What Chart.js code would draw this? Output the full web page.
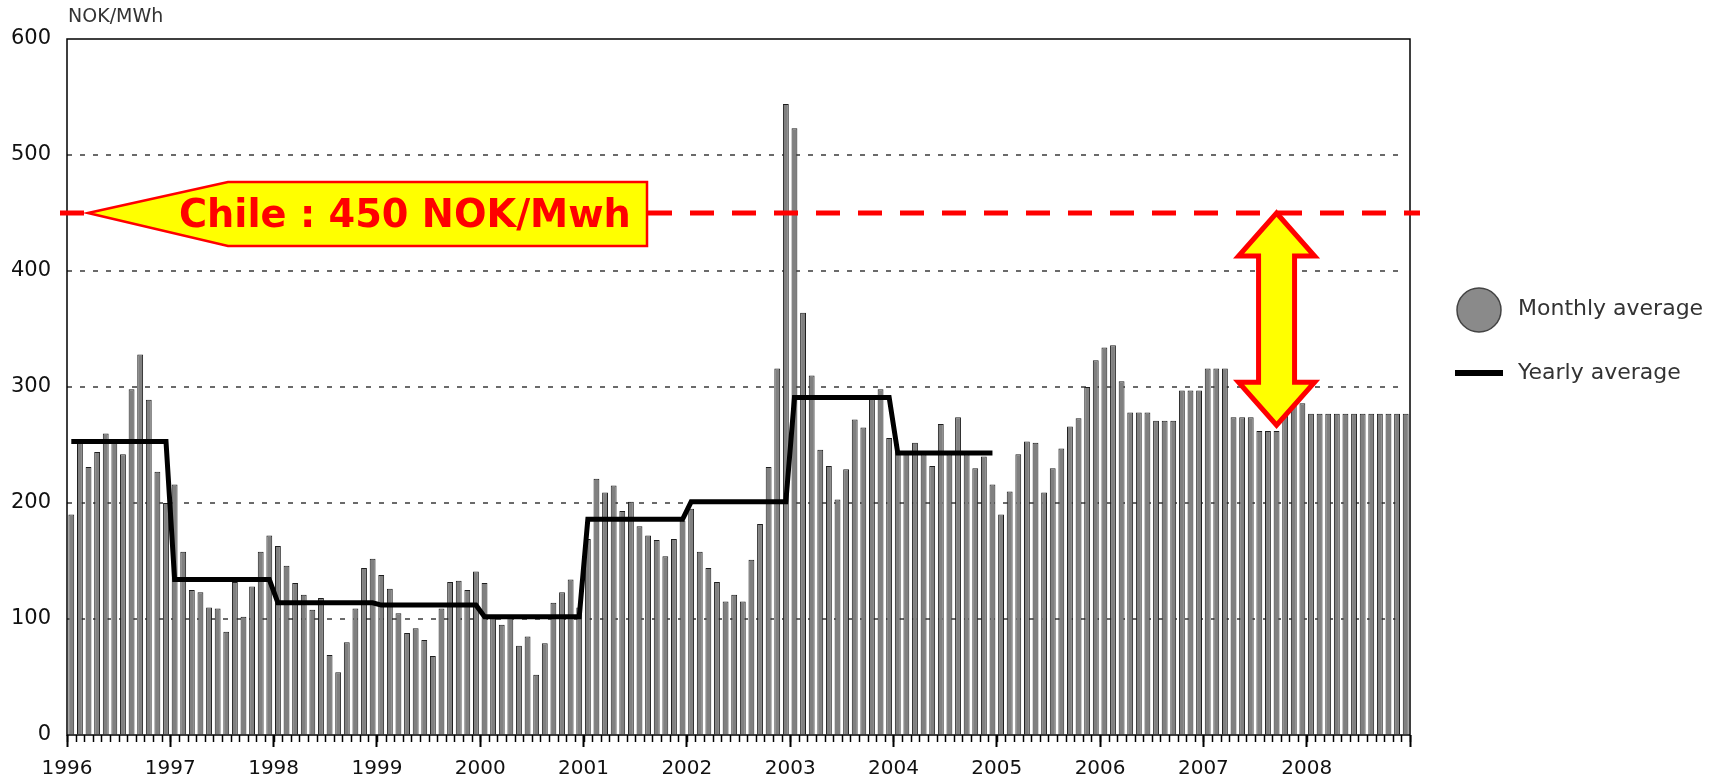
<!DOCTYPE html>
<html>
<head>
<meta charset="utf-8">
<title>NOK/MWh - monthly and yearly average</title>
<script src="https://cdn.jsdelivr.net/npm/chart.js@4.4.1/dist/chart.umd.min.js"></script>
<style>
  html, body { margin: 0; padding: 0; background: #fff; }
</style>
</head>
<body>
<canvas id="priceChart" width="1717" height="781"></canvas>
<script>
const years = ['1996', '1997', '1998', '1999', '2000', '2001', '2002',
               '2003', '2004', '2005', '2006', '2007', '2008'];
const monthNames = ['Jan', 'Feb', 'Mar', 'Apr', 'May', 'Jun',
                    'Jul', 'Aug', 'Sep', 'Oct', 'Nov', 'Dec'];

// monthly average, NOK/MWh, one row per year
const monthlyAverage = [
  190, 253, 231, 244, 260, 252, 242, 298, 328, 289, 227, 200,  // 1996
  216, 158, 125, 123, 110, 109,  89, 132, 102, 128, 158, 172,  // 1997
  163, 146, 131, 121, 108, 118,  69,  54,  80, 109, 144, 152,  // 1998
  138, 126, 105,  88,  92,  82,  68, 109, 132, 133, 125, 141,  // 1999
  131, 102,  95, 101,  77,  85,  52,  79, 114, 123, 134, 110,  // 2000
  169, 221, 209, 215, 193, 201, 180, 172, 168, 154, 169, 185,  // 2001
  195, 158, 144, 132, 115, 121, 115, 151, 182, 231, 316, 544,  // 2002
  523, 364, 310, 246, 232, 203, 229, 272, 265, 290, 298, 256,  // 2003
  245, 243, 252, 242, 232, 268, 242, 274, 242, 230, 240, 216,  // 2004
  190, 210, 242, 253, 252, 209, 230, 247, 266, 273, 300, 323,  // 2005
  334, 336, 305, 278, 278, 278, 271, 271, 271, 297, 297, 297,  // 2006
  316, 316, 316, 274, 274, 274, 262, 262, 262, 286, 286, 286,  // 2007
  277, 277, 277, 277, 277, 277, 277, 277, 277, 277, 277, 277   // 2008
];

// yearly average, 1996 - 2004
const yearlyAverage = [253, 134, 114, 112, 102, 186, 201, 291, 243];

const chileLevel = 450;
const chileLabel = 'Chile : 450 NOK/Mwh';
const gapBottom = 267;     // where the double arrow ends
const gapMonth = 140;      // month slot the double arrow stands on

const months = [];
years.forEach(y => monthNames.forEach(m => months.push(m + ' ' + y)));

// one point per month so the line steps from Dec to Jan
const yearlyLine = [];
yearlyAverage.forEach(v => {
    for (let i = 0; i < 12; i++) yearlyLine.push(v);
});

Chart.defaults.font.family = "'DejaVu Sans', Verdana, sans-serif";

const extras = {
    id: 'extras',
    beforeDatasetsDraw(chart) {
        const ctx = chart.ctx;
        const area = chart.chartArea;
        const ys = chart.scales.y;
        // dotted grid lines
        ctx.save();
        ctx.strokeStyle = '#6a6a6a';
        ctx.lineWidth = 2;
        ctx.setLineDash([5, 8]);
        ys.ticks.forEach(t => {
            if (t.value <= ys.min || t.value >= ys.max) return;
            const y = Math.round(ys.getPixelForValue(t.value));
            ctx.beginPath();
            ctx.moveTo(area.left, y);
            ctx.lineTo(area.right - 6, y);
            ctx.stroke();
        });
        ctx.restore();
    },
    afterDatasetsDraw(chart) {
        const ctx = chart.ctx;
        const area = chart.chartArea;
        const ys = chart.scales.y;
        const xs = chart.scales.x;

        // frame
        ctx.save();
        ctx.strokeStyle = '#000';
        ctx.lineWidth = 1.5;
        ctx.strokeRect(area.left, area.top, area.right - area.left, area.bottom - area.top);

        // red dashed Chile level
        const yl = ys.getPixelForValue(chileLevel);
        ctx.strokeStyle = '#ff0000';
        ctx.lineWidth = 5;
        ctx.setLineDash([24, 18]);
        ctx.beginPath();
        ctx.moveTo(area.left - 7, yl);
        ctx.lineTo(area.right + 10, yl);
        ctx.stroke();
        ctx.setLineDash([]);

        // callout
        ctx.beginPath();
        ctx.moveTo(area.left + 21, yl);
        ctx.lineTo(area.left + 161, yl - 31);
        ctx.lineTo(area.left + 580, yl - 31);
        ctx.lineTo(area.left + 580, yl + 33);
        ctx.lineTo(area.left + 161, yl + 33);
        ctx.closePath();
        ctx.fillStyle = '#ffff00';
        ctx.fill();
        ctx.lineWidth = 2.5;
        ctx.strokeStyle = '#ff0000';
        ctx.stroke();

        let size = 36;
        ctx.font = 'bold ' + size + "px 'DejaVu Sans'";
        size = size * 452 / ctx.measureText(chileLabel).width;
        ctx.font = 'bold ' + size.toFixed(1) + "px 'DejaVu Sans'";
        ctx.fillStyle = '#ff0000';
        ctx.textAlign = 'left';
        ctx.textBaseline = 'middle';
        ctx.fillText(chileLabel, area.left + 112, yl + 4);

        // double arrow between Chile level and the forward prices
        const ax = xs.getPixelForValue(gapMonth);
        const yBot = ys.getPixelForValue(gapBottom);
        const headW = 38, headH = 43, shaftW = 18;
        ctx.beginPath();
        ctx.moveTo(ax, yl);
        ctx.lineTo(ax + headW, yl + headH);
        ctx.lineTo(ax + shaftW, yl + headH);
        ctx.lineTo(ax + shaftW, yBot - headH);
        ctx.lineTo(ax + headW, yBot - headH);
        ctx.lineTo(ax, yBot);
        ctx.lineTo(ax - headW, yBot - headH);
        ctx.lineTo(ax - shaftW, yBot - headH);
        ctx.lineTo(ax - shaftW, yl + headH);
        ctx.lineTo(ax - headW, yl + headH);
        ctx.closePath();
        ctx.fillStyle = '#ffff00';
        ctx.fill();
        ctx.lineWidth = 5;
        ctx.lineJoin = 'miter';
        ctx.strokeStyle = '#ff0000';
        ctx.stroke();
        ctx.restore();
    },
    afterDraw(chart) {
        const ctx = chart.ctx;
        const area = chart.chartArea;
        const yr = chart.scales.yr;
        ctx.save();

        // month tick marks under the axis
        ctx.strokeStyle = '#000';
        ctx.lineWidth = 1.5;
        for (let k = 0; k <= months.length; k++) {
            const x = Math.round(yr.getPixelForValue(yr.min + k / 12)) + 0.5;
            ctx.beginPath();
            ctx.moveTo(x, area.bottom);
            ctx.lineTo(x, area.bottom + 7);
            ctx.stroke();
        }

        // unit label
        ctx.fillStyle = '#333';
        ctx.font = "19px 'DejaVu Sans'";
        ctx.textAlign = 'left';
        ctx.textBaseline = 'middle';
        ctx.fillText('NOK/MWh', area.left + 1, 17);

        // legend
        const lx = area.right + 69;
        ctx.beginPath();
        ctx.arc(lx, 310, 22, 0, Math.PI * 2);
        ctx.fillStyle = '#8a8a8a';
        ctx.fill();
        ctx.lineWidth = 1.5;
        ctx.strokeStyle = '#444';
        ctx.stroke();

        ctx.beginPath();
        ctx.moveTo(lx - 24, 373);
        ctx.lineTo(lx + 24, 373);
        ctx.lineWidth = 6;
        ctx.strokeStyle = '#000';
        ctx.stroke();

        ctx.fillStyle = '#333';
        ctx.font = "22px 'DejaVu Sans'";
        ctx.fillText('Monthly average', lx + 39, 309);
        ctx.fillText('Yearly average', lx + 39, 373);
        ctx.restore();
    }
};

new Chart(document.getElementById('priceChart'), {
    type: 'bar',
    data: {
        labels: months,
        datasets: [
            {
                type: 'line',
                label: 'Yearly average',
                data: yearlyLine,
                borderColor: '#000',
                borderWidth: 5,
                pointRadius: 0,
                tension: 0,
                fill: false,
                order: 0
            },
            {
                type: 'bar',
                label: 'Monthly average',
                data: monthlyAverage,
                backgroundColor: '#808080',
                borderColor: '#1e1e1e',
                borderWidth: 1,
                barPercentage: 0.68,
                categoryPercentage: 1,
                order: 1
            }
        ]
    },
    options: {
        responsive: false,
        animation: false,
        layout: { padding: { left: 0, right: 307, top: 39, bottom: 0 } },
        plugins: {
            legend: { display: false },
            tooltip: { enabled: false }
        },
        scales: {
            x: {
                type: 'category',
                offset: true,
                weight: 0,
                ticks: { display: false },
                grid: { display: false },
                border: { display: false },
                afterFit: s => { s.height = 0; }
            },
            yr: {
                type: 'linear',
                position: 'bottom',
                offset: false,
                weight: 1,
                min: 1996,
                max: 2009,
                ticks: {
                    stepSize: 1,
                    autoSkip: false,
                    maxRotation: 0,
                    padding: 10,
                    color: '#111',
                    font: { size: 20 },
                    callback: v => (v < 2009 ? String(v) : '')
                },
                grid: {
                    offset: false,
                    drawOnChartArea: false,
                    tickLength: 12,
                    tickWidth: 2,
                    tickColor: '#000'
                },
                border: { display: false },
                afterFit: s => { s.height = 46; }
            },
            y: {
                min: 0,
                max: 600,
                ticks: {
                    stepSize: 100,
                    padding: 16,
                    color: '#111',
                    font: { size: 21 }
                },
                grid: { drawOnChartArea: false, drawTicks: false },
                border: { display: false },
                afterFit: s => { s.width = 67; }
            }
        }
    },
    plugins: [extras]
});
</script>
</body>
</html>
